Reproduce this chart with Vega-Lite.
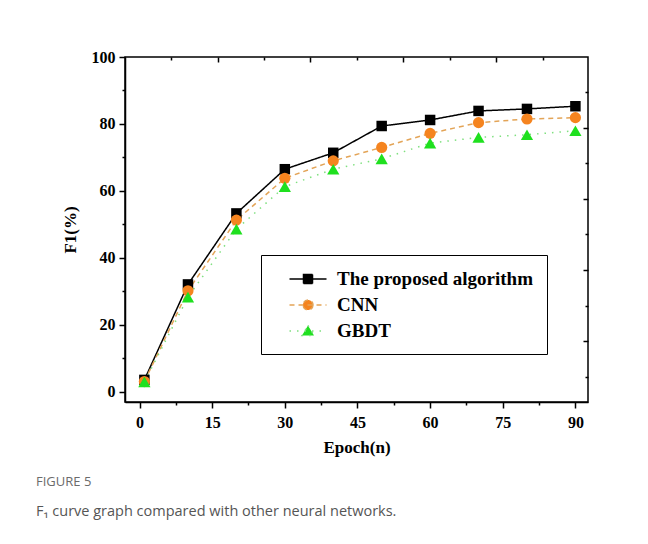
{
  "$schema": "https://vega.github.io/schema/vega-lite/v6.json",
  "width": 463,
  "height": 345,
  "autosize": {"type": "none"},
  "padding": {"left": 125, "top": 57, "right": 60, "bottom": 142},
  "background": "white",
  "config": {
    "view": {"stroke": "black", "strokeWidth": 1.5},
    "axis": {
      "labelFont": "Liberation Serif",
      "labelFontWeight": "bold",
      "labelFontSize": 16,
      "labelColor": "black",
      "titleFont": "Liberation Serif",
      "titleFontWeight": "bold",
      "titleFontSize": 17,
      "titleColor": "black",
      "domainColor": "black",
      "domainWidth": 1.5,
      "tickColor": "black",
      "tickWidth": 1.5,
      "grid": false
    }
  },
  "title": {
    "text": "FIGURE 5",
    "subtitle": "F₁ curve graph compared with other neural networks.",
    "orient": "bottom",
    "anchor": "start",
    "frame": "bounds",
    "dx": -25,
    "offset": 21,
    "font": "Open Sans",
    "fontSize": 13,
    "fontWeight": "normal",
    "color": "#6b6b6b",
    "subtitleFont": "Open Sans",
    "subtitleFontSize": 14.5,
    "subtitleColor": "#555555",
    "subtitlePadding": 16
  },
  "data": {
    "values": [
      {"epoch": 1, "f1": 3.6, "model": "The proposed algorithm"},
      {"epoch": 10, "f1": 32.1, "model": "The proposed algorithm"},
      {"epoch": 20, "f1": 53.3, "model": "The proposed algorithm"},
      {"epoch": 30, "f1": 66.5, "model": "The proposed algorithm"},
      {"epoch": 40, "f1": 71.4, "model": "The proposed algorithm"},
      {"epoch": 50, "f1": 79.4, "model": "The proposed algorithm"},
      {"epoch": 60, "f1": 81.2, "model": "The proposed algorithm"},
      {"epoch": 70, "f1": 83.9, "model": "The proposed algorithm"},
      {"epoch": 80, "f1": 84.5, "model": "The proposed algorithm"},
      {"epoch": 90, "f1": 85.3, "model": "The proposed algorithm"},
      {"epoch": 1, "f1": 3.1, "model": "CNN"},
      {"epoch": 10, "f1": 30.2, "model": "CNN"},
      {"epoch": 20, "f1": 51.3, "model": "CNN"},
      {"epoch": 30, "f1": 63.8, "model": "CNN"},
      {"epoch": 40, "f1": 69.0, "model": "CNN"},
      {"epoch": 50, "f1": 73.0, "model": "CNN"},
      {"epoch": 60, "f1": 77.2, "model": "CNN"},
      {"epoch": 70, "f1": 80.4, "model": "CNN"},
      {"epoch": 80, "f1": 81.5, "model": "CNN"},
      {"epoch": 90, "f1": 81.9, "model": "CNN"},
      {"epoch": 1, "f1": 3.0, "model": "GBDT"},
      {"epoch": 10, "f1": 28.3, "model": "GBDT"},
      {"epoch": 20, "f1": 48.6, "model": "GBDT"},
      {"epoch": 30, "f1": 61.3, "model": "GBDT"},
      {"epoch": 40, "f1": 66.5, "model": "GBDT"},
      {"epoch": 50, "f1": 69.6, "model": "GBDT"},
      {"epoch": 60, "f1": 74.3, "model": "GBDT"},
      {"epoch": 70, "f1": 76.0, "model": "GBDT"},
      {"epoch": 80, "f1": 76.8, "model": "GBDT"},
      {"epoch": 90, "f1": 78.0, "model": "GBDT"}
    ]
  },
  "resolve": {"axis": {"x": "independent", "y": "independent"}},
  "layer": [
    {
      "mark": {"type": "line", "strokeWidth": 1.5},
      "encoding": {
        "x": {
          "field": "epoch", "type": "quantitative",
          "scale": {"domain": [-3, 92.6], "nice": false, "zero": false},
          "axis": {
            "orient": "bottom",
            "title": "Epoch(n)",
            "values": [0, 7.5, 15, 22.5, 30, 37.5, 45, 52.5, 60, 67.5, 75, 82.5, 90],
            "labelExpr": "datum.value % 15 === 0 ? datum.label : ''",
            "tickSize": {"condition": {"test": "datum.value % 15 === 0", "value": 6}, "value": 3},
            "labelPadding": 6,
            "titlePadding": 9
          }
        },
        "y": {
          "field": "f1", "type": "quantitative",
          "scale": {"domain": [-3, 100], "nice": false, "zero": false},
          "axis": {
            "orient": "left",
            "title": "F1(%)",
            "values": [0, 10, 20, 30, 40, 50, 60, 70, 80, 90, 100],
            "labelExpr": "datum.value % 20 === 0 ? datum.label : ''",
            "tickSize": {"condition": {"test": "datum.value % 20 === 0", "value": 6}, "value": 3},
            "labelPadding": 4,
            "titlePadding": 12
          }
        },
        "stroke": {
          "field": "model", "type": "nominal",
          "scale": {"domain": ["The proposed algorithm", "CNN", "GBDT"], "range": ["#000000", "#e3a457", "#7fe07f"]},
          "legend": {
            "title": null,
            "orient": "none",
            "legendX": 136,
            "legendY": 198,
            "strokeColor": "black",
            "padding": 13,
            "fillColor": "white",
            "symbolSize": 400,
            "symbolStrokeWidth": 1.5,
            "symbolOffset": 23,
            "labelOffset": 18,
            "labelFont": "Liberation Serif",
            "labelFontWeight": "bold",
            "labelFontSize": 19,
            "labelColor": "black",
            "rowPadding": 5,
            "labelLimit": 400
          }
        },
        "strokeDash": {
          "field": "model", "type": "nominal",
          "scale": {"domain": ["The proposed algorithm", "CNN", "GBDT"], "range": [[1, 0], [5, 4], [1.5, 6]]}
        }
      }
    },
    {
      "transform": [{"filter": "datum.model === 'The proposed algorithm'"}],
      "mark": {"type": "point", "filled": true, "opacity": 1, "shape": "square", "size": 110, "fill": "#000000"},
      "encoding": {
        "x": {
          "field": "epoch", "type": "quantitative",
          "axis": {
            "orient": "bottom",
            "offset": -345,
            "title": null,
            "labels": false,
            "domain": false,
            "values": [6.5, 16.1, 25.7, 35.3, 44.9, 54.5, 64.1, 73.7, 83.3],
            "tickSize": {"condition": {"test": "indexof([16.1, 35.3, 54.5, 73.7], datum.value) >= 0", "value": 5}, "value": 3}
          }
        },
        "y": {
          "field": "f1", "type": "quantitative",
          "axis": {
            "orient": "left",
            "offset": -463,
            "title": null,
            "labels": false,
            "domain": false,
            "values": [4.5, 15.2, 25.7, 36.4, 47.2, 57.6, 68.4, 78.9, 89.6],
            "tickSize": {"condition": {"test": "indexof([15.2, 36.4, 57.6, 78.9], datum.value) >= 0", "value": 5}, "value": 3}
          }
        }
      }
    },
    {
      "transform": [{"filter": "datum.model === 'CNN'"}],
      "mark": {"type": "point", "filled": true, "opacity": 1, "shape": "circle", "size": 125, "fill": "#f5841f"},
      "encoding": {
        "x": {"field": "epoch", "type": "quantitative", "axis": null},
        "y": {"field": "f1", "type": "quantitative", "axis": null}
      }
    },
    {
      "transform": [{"filter": "datum.model === 'GBDT'"}],
      "mark": {"type": "point", "filled": true, "opacity": 1, "shape": "triangle-up", "size": 150, "fill": "#1fe01f"},
      "encoding": {
        "x": {"field": "epoch", "type": "quantitative", "axis": null},
        "y": {"field": "f1", "type": "quantitative", "axis": null}
      }
    },
    {
      "transform": [{"filter": "datum.epoch < 0"}],
      "mark": {"type": "point", "filled": true, "opacity": 1, "strokeWidth": 1.5},
      "encoding": {
        "x": {"field": "epoch", "type": "quantitative", "axis": null},
        "y": {"field": "f1", "type": "quantitative", "axis": null},
        "shape": {
          "field": "model", "type": "nominal",
          "scale": {
            "domain": ["The proposed algorithm", "CNN", "GBDT"],
            "range": [
              "M-1.85,0H1.85M-0.45,-0.45H0.45V0.45H-0.45Z",
              "M-1.85,0H1.85M0.5,0A0.5,0.5,0,1,1,-0.5,0A0.5,0.5,0,1,1,0.5,0Z",
              "M-1.85,0H1.85M0,-0.55L0.6,0.45H-0.6Z"
            ]
          }
        },
        "fill": {
          "field": "model", "type": "nominal",
          "scale": {"domain": ["The proposed algorithm", "CNN", "GBDT"], "range": ["#000000", "#f5841f", "#1fe01f"]}
        },
        "stroke": {"field": "model", "type": "nominal"},
        "strokeDash": {"field": "model", "type": "nominal"}
      }
    }
  ]
}
